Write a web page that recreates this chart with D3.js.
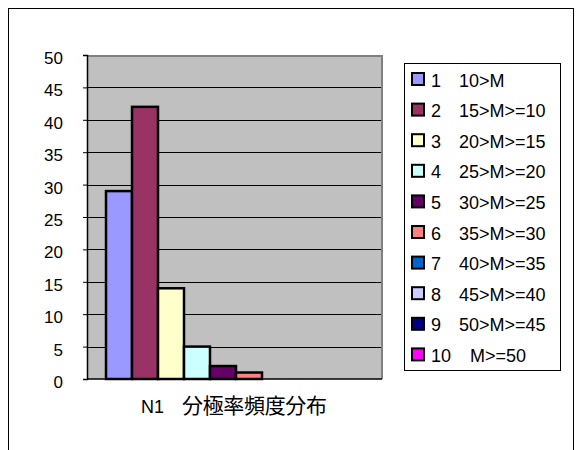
<!DOCTYPE html>
<html>
<head>
<meta charset="utf-8">
<script src="https://cdn.jsdelivr.net/npm/d3@7"></script>
<style>
  body { margin: 0; background: #fff; }
  svg text { font-family: Arial, "Liberation Sans", sans-serif; fill: #000; }
</style>
</head>
<body>
<svg id="chart" width="579" height="450"></svg>
<script>
// data
const categoryCode = "N1";
const categoryName = "分極率頻度分布";
const classes = ["1", "2", "3", "4", "5", "6", "7", "8", "9", "10"];
const ranges = ["10>M", "15>M>=10", "20>M>=15", "25>M>=20", "30>M>=25",
  "35>M>=30", "40>M>=35", "45>M>=40", "50>M>=45", "M>=50"];
const counts = [29, 42, 14, 5, 2, 1, 0, 0, 0, 0];
const colors = ["#9999FF", "#993366", "#FFFFCC", "#CCFFFF", "#660066",
  "#FF8080", "#0066CC", "#CCCCFF", "#000080", "#FF00FF"];
const yTicks = [0, 5, 10, 15, 20, 25, 30, 35, 40, 45, 50];

const svg = d3.select("#chart");

// outer chart frame (runs past the bottom of the window)
svg.append("rect")
  .attr("x", 8.5).attr("y", 8.5)
  .attr("width", 565).attr("height", 460)
  .attr("fill", "#fff").attr("stroke", "#000").attr("stroke-width", 1);

const plot = { left: 87, top: 55, right: 382, bottom: 379 };

let y = d3.scaleLinear().domain([0, 50]).range([plot.bottom, plot.top]);
let x = d3.scaleBand().domain(classes)
  .range([plot.left + 19, plot.right - 16]).padding(0);

// plot area
svg.append("rect")
  .attr("x", plot.left).attr("y", plot.top)
  .attr("width", plot.right - plot.left).attr("height", plot.bottom - plot.top)
  .attr("fill", "#C0C0C0");
svg.append("path")
  .attr("d", `M${plot.left},${plot.top + 1}H${plot.right}V${plot.bottom}`)
  .attr("fill", "none").attr("stroke", "#808080").attr("stroke-width", 2);

// gridlines
svg.append("g")
  .selectAll("line")
  .data(yTicks.filter(d => d > 0 && d < 50))
  .join("line")
  .attr("x1", plot.left).attr("x2", plot.right - 1)
  .attr("y1", d => Math.round(y(d)) + 0.5).attr("y2", d => Math.round(y(d)) + 0.5)
  .attr("stroke", "#000").attr("stroke-width", 1);

// y axis
let yAxis = svg.append("g")
  .attr("transform", `translate(${plot.left},0)`)
  .call(d3.axisLeft(y).tickValues(yTicks).tickSize(4).tickPadding(20));
yAxis.select(".domain").attr("stroke", "#000").attr("stroke-width", 1.5);
yAxis.selectAll(".tick line").attr("stroke", "#000");
yAxis.selectAll(".tick text")
  .attr("font-size", 17).attr("dy", "0.5em")
  .attr("font-family", "Arial, 'Liberation Sans', sans-serif")
  .attr("fill", "#000");

// bars
svg.append("g")
  .selectAll("rect")
  .data(counts.map((v, i) => ({ k: classes[i], v, c: colors[i] })).filter(d => d.v > 0))
  .join("rect")
  .attr("x", d => x(d.k))
  .attr("y", d => y(d.v))
  .attr("width", x.bandwidth())
  .attr("height", d => y(0) - y(d.v))
  .attr("fill", d => d.c)
  .attr("stroke", "#000").attr("stroke-width", 2.5);

// x axis baseline
svg.append("line")
  .attr("x1", plot.left).attr("x2", plot.right)
  .attr("y1", plot.bottom).attr("y2", plot.bottom)
  .attr("stroke", "#000").attr("stroke-width", 1.5);

// category label
svg.append("text")
  .attr("x", 141).attr("y", 413)
  .attr("font-size", 18)
  .text(categoryCode);
svg.append("text")
  .attr("x", 182).attr("y", 413)
  .attr("font-size", 21)
  .attr("textLength", 145)
  .attr("lengthAdjust", "spacing")
  .style("font-family", "'Noto Sans CJK JP', sans-serif")
  .text(categoryName);

// legend
let legend = svg.append("g");
legend.append("rect")
  .attr("x", 404.5).attr("y", 63.5).attr("width", 156).attr("height", 307)
  .attr("fill", "#fff").attr("stroke", "#000").attr("stroke-width", 1);

let items = legend.selectAll("g.item")
  .data(classes.map((k, i) => ({ k, r: ranges[i], c: colors[i] })))
  .join("g").attr("class", "item")
  .attr("transform", (d, i) => `translate(0,${79 + i * 30.6})`);
items.append("rect")
  .attr("x", 412).attr("y", -6).attr("width", 12).attr("height", 12)
  .attr("fill", d => d.c).attr("stroke", "#000").attr("stroke-width", 2);
items.append("text")
  .attr("x", 431).attr("y", 7.5)
  .attr("font-size", 18)
  .text(d => d.k);
items.append("text")
  .attr("x", d => d.k === "10" ? 470 : 459).attr("y", 7.5)
  .attr("font-size", 18)
  .text(d => d.r);
</script>
</body>
</html>
